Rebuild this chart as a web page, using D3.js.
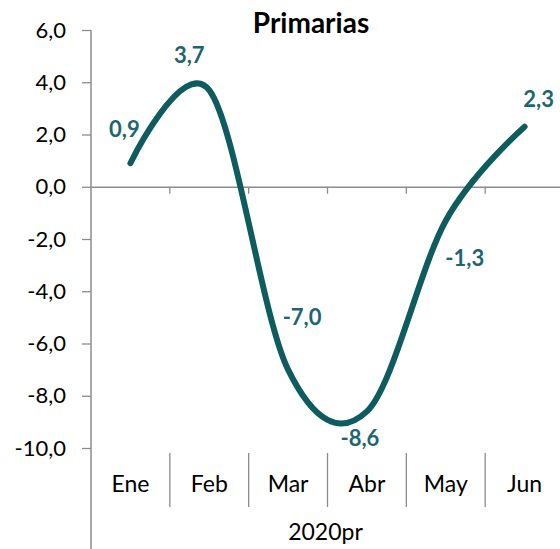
<!DOCTYPE html>
<meta charset="utf-8">
<style>
  body { margin: 0; background: #fff; }
  text { font-family: Lato, "Open Sans", sans-serif; }
</style>
<body>
<script src="https://d3js.org/d3.v7.min.js"></script>
<script>

// data
var months = ["Ene", "Feb", "Mar", "Abr", "May", "Jun"];
var values = [0.9, 3.7, -7.0, -8.6, -1.3, 2.3];
var yTicks = [-10, -8, -6, -4, -2, 0, 2, 4, 6];
var groupLabel = "2020pr";
var title = "Primarias";

// label nudges (px) so they sit like the original
var labelDx = [-6, -20, 14, -7, 19, 14],
    labelDy = [-26, -27, -45, 35, 45, -20];

var width = 560, height = 549;
var plotLeft = 91, plotRight = 564, plotTop = 30, plotBottom = 448;

var svg = d3.select("body").append("svg")
    .attr("width", width)
    .attr("height", height);

var x = d3.scaleBand()
    .domain(months)
    .range([plotLeft, plotRight]);

var y = d3.scaleLinear()
    .domain([-10, 6])
    .range([plotBottom, plotTop]);

var fmt = function(v) { return d3.format(".1f")(v).replace(".", ",").replace("−", "-"); };

var grey = "#8c8c8c";

// y axis
var yAxis = svg.append("g")
    .attr("transform", "translate(" + plotLeft + ",0)")
    .call(d3.axisLeft(y).tickValues(yTicks).tickSize(9).tickFormat(fmt));
yAxis.select(".domain").remove();
yAxis.selectAll(".tick line").attr("stroke", grey).attr("stroke-width", 1.3);
yAxis.selectAll(".tick text")
    .attr("x", -25)
    .style("font-size", "22px")
    .attr("fill", "#000");

// vertical axis line runs down through the category area
svg.append("line")
    .attr("x1", plotLeft).attr("x2", plotLeft)
    .attr("y1", plotTop).attr("y2", height)
    .attr("stroke", grey).attr("stroke-width", 1.5);

// zero line with small ticks
var xAxis = svg.append("g")
    .attr("transform", "translate(0," + y(0) + ")")
    .call(d3.axisBottom(x).tickSize(0).tickFormat(""));
xAxis.select(".domain").attr("stroke", grey).attr("stroke-width", 1.5);
xAxis.selectAll(".tick").remove();
xAxis.selectAll(".sep")
    .data(months.slice(1))
  .enter().append("line")
    .attr("x1", function(d) { return x(d); })
    .attr("x2", function(d) { return x(d); })
    .attr("y1", 0).attr("y2", 7)
    .attr("stroke", grey).attr("stroke-width", 1.3);

// category separators below plot
svg.selectAll(".catsep")
    .data(months.slice(1))
  .enter().append("line")
    .attr("x1", function(d) { return x(d); })
    .attr("x2", function(d) { return x(d); })
    .attr("y1", plotBottom + 5).attr("y2", plotBottom + 59)
    .attr("stroke", grey).attr("stroke-width", 1.3);

svg.selectAll(".cat")
    .data(months)
  .enter().append("text")
    .attr("x", function(d) { return x(d) + x.bandwidth() / 2; })
    .attr("y", 492)
    .attr("text-anchor", "middle")
    .style("font-size", "23px")
    .text(function(d) { return d; });

svg.append("text")
    .attr("x", (plotLeft + plotRight) / 2 - 2)
    .attr("y", 540)
    .attr("text-anchor", "middle")
    .style("font-size", "23px")
    .text(groupLabel);

// title
svg.append("text")
    .attr("x", 311)
    .attr("y", 33)
    .attr("text-anchor", "middle")
    .style("font-size", "28px")
    .style("font-weight", "bold")
    .text(title);

// smoothed line
var line = d3.line()
    .x(function(d, i) { return x(months[i]) + x.bandwidth() / 2; })
    .y(function(d) { return y(d); })
    .curve(d3.curveCardinal.tension(0));

svg.append("path")
    .datum(values)
    .attr("d", line)
    .attr("fill", "none")
    .attr("stroke", "#0e5c5e")
    .attr("stroke-width", 6)
    .attr("stroke-linecap", "round");

// data labels
svg.selectAll(".lbl")
    .data(values)
  .enter().append("text")
    .attr("x", function(d, i) { return x(months[i]) + x.bandwidth() / 2 + labelDx[i]; })
    .attr("y", function(d, i) { return y(d) + labelDy[i]; })
    .attr("text-anchor", "middle")
    .style("font-size", "22px")
    .style("font-weight", "bold")
    .attr("fill", "#1d6670")
    .text(function(d) { return fmt(d); });

</script>
</body>
